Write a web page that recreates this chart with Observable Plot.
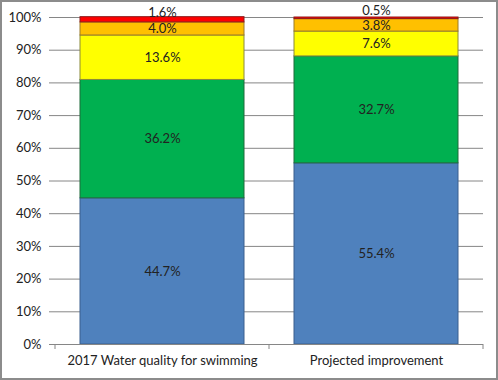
<!DOCTYPE html>
<html>
<head>
<meta charset="utf-8">
<script src="https://cdn.jsdelivr.net/npm/d3@7"></script>
<script src="https://cdn.jsdelivr.net/npm/@observablehq/plot@0.6"></script>
<style>
  html, body { margin: 0; padding: 0; background: #fff; }
  #wrap { position: relative; width: 498px; height: 380px; }
  #frame { position: absolute; left: 0; top: 0; width: 498px; height: 380px; box-sizing: border-box; border: 2px solid #8c8c8c; pointer-events: none; }
  svg { font-family: Lato, "Open Sans", sans-serif; }
</style>
</head>
<body>
<div id="wrap"><div id="chart"></div><div id="frame"></div></div>
<script>
const categories = ["2017 Water quality for swimming", "Projected improvement"];
const levels = ["Excellent", "Good", "Fair", "Poor", "Very poor"];
const values2017 = [44.7, 36.2, 13.6, 4.0, 1.6];
const valuesProjected = [55.4, 32.7, 7.6, 3.8, 0.5];
const fillColors = ["#4f81bd", "#00b050", "#ffff00", "#ffc000", "#ff0000"];
const strokeColors = ["#3a5f8e", "#1f6b3a", "#8a8a3a", "#9a7a2a", "#8b1a1a"];
const yTicks = [0, 10, 20, 30, 40, 50, 60, 70, 80, 90, 100];

const seriesValues = [values2017, valuesProjected];
const data = [];
categories.forEach((c, ci) => {
  levels.forEach((l, li) => {
    data.push({category: c, level: l, li, value: seriesValues[ci][li]});
  });
});
const topLevel = levels[levels.length - 1];

function categoryTicks(index, scales, values, dimensions) {
  const x = scales.x;
  const g = d3.create("svg:g");
  const step = x.step ? x.step() : x.bandwidth();
  const y0 = dimensions.height - dimensions.marginBottom;
  const positions = categories.map(c => x(c) - (step - x.bandwidth()) / 2);
  positions.push(x(categories[categories.length - 1]) + x.bandwidth() + (step - x.bandwidth()) / 2);
  for (const px of positions) {
    g.append("line").attr("x1", px).attr("x2", px).attr("y1", y0).attr("y2", y0 + 5)
      .attr("stroke", "#868686").attr("stroke-width", 1);
  }
  return g.node();
}

const chart = Plot.plot({
  width: 498,
  height: 380,
  marginLeft: 54,
  marginRight: 15,
  marginTop: 17,
  marginBottom: 36,
  style: {fontSize: "13px", color: "#222", background: "transparent"},
  x: {domain: categories, paddingInner: 0.235, paddingOuter: 0.1175, label: null},
  y: {domain: [0, 100], label: null},
  color: {type: "identity"},
  marks: [
    Plot.ruleY(yTicks, {stroke: "#868686", strokeOpacity: 1, strokeWidth: 1}),
    Plot.axisY({ticks: yTicks, tickFormat: d => d + "%", tickSize: 5, tickPadding: 8, stroke: "#868686", strokeOpacity: 1, fontSize: 13, fill: "#222", label: null}),
    Plot.ruleX([0], {frameAnchor: "left", stroke: "#868686"}),
    Plot.barY(data, Plot.stackY({
      x: "category", y: "value", order: "li",
      fill: d => fillColors[d.li], stroke: d => strokeColors[d.li], strokeWidth: 1
    })),
    Plot.ruleY([0], {stroke: "#868686"}),
    categoryTicks,
    Plot.axisX({tickSize: 0, tickPadding: 11, fontSize: 13, fill: "#222", label: null}),
    Plot.text(data, Plot.stackY({
      x: "category", y: "value", order: "li",
      text: d => d.level === topLevel ? "" : d.value.toFixed(1) + "%",
      fill: "#222", fontSize: 13
    })),
    Plot.text(data, Plot.stackY({
      x: "category", y: "value", order: "li",
      text: d => d.level === topLevel ? d.value.toFixed(1) + "%" : "",
      fill: "#222", fontSize: 13, dy: -7
    }))
  ]
});
document.getElementById("chart").appendChild(chart);
</script>
</body>
</html>
